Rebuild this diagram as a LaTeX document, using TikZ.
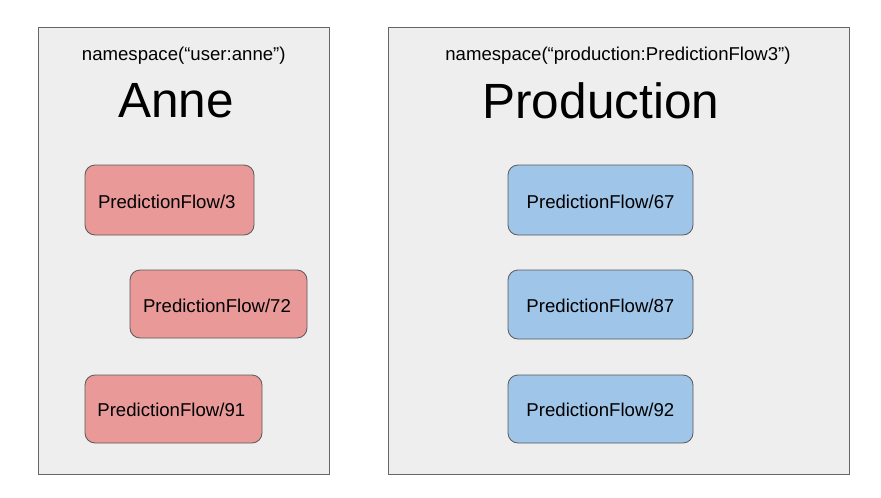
\documentclass[tikz,border=0pt]{standalone}
\usepackage{fontspec}
\setmainfont{Liberation Sans}
\definecolor{panelfill}{HTML}{EEEEEE}
\definecolor{panelline}{HTML}{666666}
\definecolor{redfill}{HTML}{EA9999}
\definecolor{bluefill}{HTML}{9FC5E8}
\definecolor{boxline}{HTML}{595959}
\tikzset{
  panel/.style={draw=panelline, fill=panelfill, line width=0.8pt},
  flowbox/.style={draw=boxline, line width=0.8pt, rounded corners=10pt, inner sep=0pt},
  redbox/.style={flowbox, fill=redfill},
  bluebox/.style={flowbox, fill=bluefill},
  smalltext/.style={font=\fontsize{18.6}{22}\selectfont, inner sep=0pt},
  bigtext/.style={font=\fontsize{49.5}{56}\selectfont, inner sep=0pt},
}
\begin{document}
\begin{tikzpicture}[x=1pt,y=-1pt]
\useasboundingbox (0,0) rectangle (881,498);
\fill[white] (0,0) rectangle (881,498);
% panels
\draw[panel] (38,27) rectangle (329,474);
\draw[panel] (388,27) rectangle (849,474);
\node[smalltext] (nsanne) at (183.8,55.5) {namespace(“user:anne”)};
\node[bigtext] (anne) at (176,101) {Anne};
\node[smalltext] (nsprod) at (618,55.5) {namespace(“production:PredictionFlow3”)};
\node[bigtext] (prod) at (600.8,101) {Production};
% red boxes
\draw[redbox] (85,165) rectangle (254,235);
\node[smalltext] (r1) at (166.8,201.5) {PredictionFlow/3};
\draw[redbox] (130,270) rectangle (307,338);
\node[smalltext] (r2) at (217,306) {PredictionFlow/72};
\draw[redbox] (85,375) rectangle (262,443);
\node[smalltext] (r3) at (171.3,410.2) {PredictionFlow/91};
% blue boxes
\draw[bluebox] (508,165) rectangle (693,235);
\node[smalltext] (b1) at (600.6,202) {PredictionFlow/67};
\draw[bluebox] (508,270) rectangle (693,339);
\node[smalltext] (b2) at (600.4,306) {PredictionFlow/87};
\draw[bluebox] (508,375) rectangle (693,443);
\node[smalltext] (b3) at (600.4,410.2) {PredictionFlow/92};
\end{tikzpicture}
\end{document}
